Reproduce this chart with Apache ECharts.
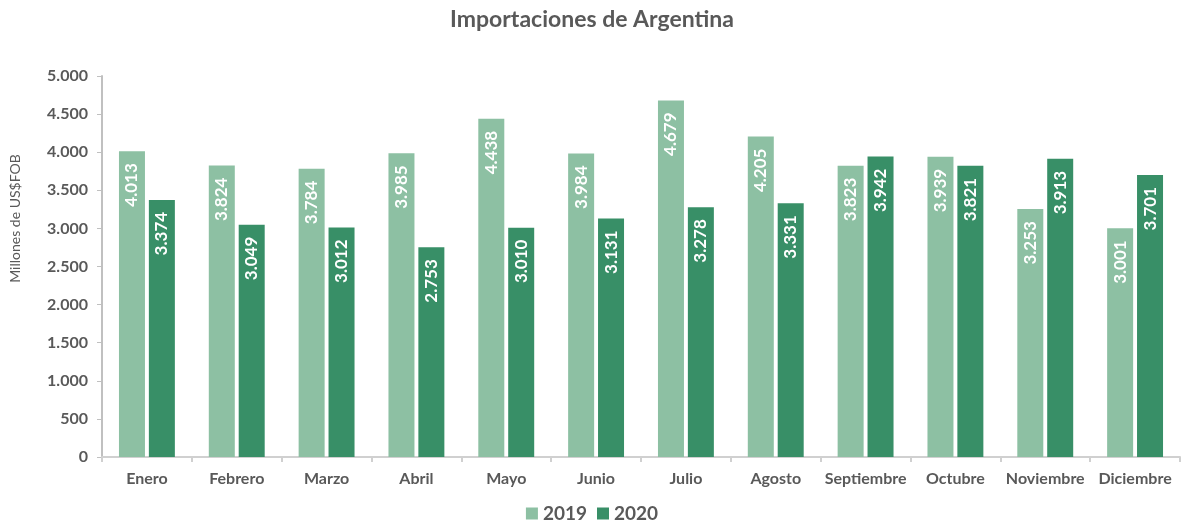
<!DOCTYPE html>
<html>
<head>
<meta charset="utf-8">
<script src="https://cdn.jsdelivr.net/npm/echarts@6/dist/echarts.min.js"></script>
<style>
  html, body { margin: 0; padding: 0; background: #fff; }
  #chart { width: 1184px; height: 528px; }
</style>
</head>
<body>
<div id="chart"></div>
<script>
var meses = ['Enero', 'Febrero', 'Marzo', 'Abril', 'Mayo', 'Junio', 'Julio', 'Agosto', 'Septiembre', 'Octubre', 'Noviembre', 'Diciembre'];
var imp2019 = [4013, 3824, 3784, 3985, 4438, 3984, 4679, 4205, 3823, 3939, 3253, 3001];
var imp2020 = [3374, 3049, 3012, 2753, 3010, 3131, 3278, 3331, 3942, 3821, 3913, 3701];

// separador de miles con punto
function fmt(v) {
  return String(v).replace(/\B(?=(\d{3})+(?!\d))/g, '.');
}

var fuente = 'Lato, "Open Sans", sans-serif';
var gris = '#595959';

var etiqueta = {
  show: true,
  position: 'insideTop',
  rotate: 90,
  align: 'right',
  verticalAlign: 'middle',
  distance: 12,
  color: '#fff',
  fontFamily: fuente,
  fontWeight: 'bold',
  fontSize: 17,
  formatter: function (p) { return fmt(p.value); }
};

var chart = echarts.init(document.getElementById('chart'));
chart.setOption({
  animation: false,
  color: ['#8dc0a3', '#388f67'],
  title: {
    text: 'Importaciones de Argentina',
    left: 'center',
    top: 3,
    textStyle: { color: gris, fontFamily: fuente, fontWeight: 'bold', fontSize: 23 }
  },
  legend: {
    bottom: 0,
    left: 'center',
    icon: 'rect',
    itemWidth: 12,
    itemHeight: 12,
    itemGap: 10,
    textStyle: { color: gris, fontFamily: fuente, fontWeight: 'bold', fontSize: 19 }
  },
  grid: { left: 100, right: 4, top: 76, bottom: 71 },
  xAxis: {
    type: 'category',
    data: meses,
    axisLine: { lineStyle: { color: '#d0d0d0', width: 2 } },
    axisTick: { show: true, interval: 0, length: 5, lineStyle: { color: '#d0d0d0', width: 2 } },
    axisLabel: { interval: 0, color: gris, fontFamily: fuente, fontWeight: 'bold', fontSize: 16, margin: 14 }
  },
  yAxis: {
    type: 'value',
    min: 0,
    max: 5000,
    interval: 500,
    name: 'Millones de US$FOB',
    nameLocation: 'middle',
    nameGap: 80,
    nameTextStyle: { color: gris, fontFamily: fuente, fontSize: 14, padding: [0, 0, 0, 96] },
    axisLine: { show: true, lineStyle: { color: '#c0c0c0', width: 2 } },
    axisTick: { show: true, length: 5, lineStyle: { color: '#c0c0c0' } },
    splitLine: { show: false },
    axisLabel: {
      color: gris, fontFamily: fuente, fontWeight: 'bold', fontSize: 16, margin: 14,
      formatter: function (v) { return fmt(v); }
    }
  },
  series: [
    { name: '2019', type: 'bar', data: imp2019, barWidth: 26, barGap: '15%', label: etiqueta },
    { name: '2020', type: 'bar', data: imp2020, barWidth: 26, barGap: '15%', label: etiqueta }
  ]
});
</script>
</body>
</html>
